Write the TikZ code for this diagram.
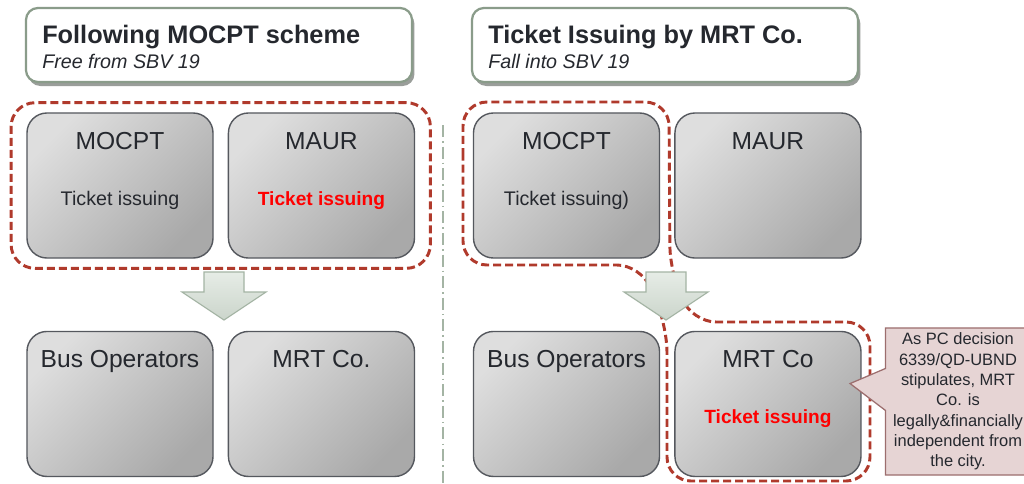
\documentclass[tikz,border=0pt]{standalone}
\usepackage{fontspec}
\setmainfont{Liberation Sans}
\usetikzlibrary{positioning,fit,shadows,shapes.callouts}

\definecolor{inkgray}{HTML}{25282E}
\definecolor{boxline}{HTML}{55585E}
\definecolor{boxlight}{HTML}{DEDEDE}
\definecolor{boxdark}{HTML}{A9A9A9}
\definecolor{grpred}{HTML}{B03A2C}
\definecolor{titleline}{HTML}{8A9C8A}
\definecolor{titleshade}{HTML}{9A9E9A}
\definecolor{arrowtop}{HTML}{E6ECE6}
\definecolor{arrowbot}{HTML}{CBD5CB}
\definecolor{arrowline}{HTML}{A4B4A4}
\definecolor{notefill}{HTML}{E6D4D4}
\definecolor{noteline}{HTML}{9C6E6E}

\begin{document}
\begin{tikzpicture}[x=0.025cm, y=-0.025cm, text=inkgray]

	% Stili per riquadri, gruppi e frecce
	\tikzset{
		titlebox/.style={
			draw=titleline, line width=1.6pt, fill=white,
			rounded corners=0.3cm,
			minimum width=9.65cm, minimum height=1.85cm,
			general shadow={shadow xshift=0.06cm, shadow yshift=-0.1cm,
				fill=titleshade}
		},
		titletext/.style={
			anchor=base west, inner sep=0pt,
			font=\bfseries\fontsize{18}{21}\selectfont
		},
		subtext/.style={
			anchor=base west, inner sep=0pt,
			font=\itshape\fontsize{14}{17}\selectfont
		},
		unit/.style={
			draw=boxline, line width=1pt, rounded corners=0.5cm,
			minimum width=4.65cm, minimum height=3.625cm,
			top color=boxlight, bottom color=boxdark, shading angle=45
		},
		head/.style={
			anchor=base,
			font=\fontsize{17.5}{21}\selectfont
		},
		duty/.style={
			anchor=base,
			font=\fontsize{14}{17}\selectfont
		},
		hotduty/.style={
			anchor=base, text=red,
			font=\bfseries\fontsize{13.6}{17}\selectfont
		},
		group/.style={
			draw=grpred, line width=2.1pt,
			dash pattern=on 0.2cm off 0.1cm,
			rounded corners=0.6cm
		},
		flow/.style={
			draw=arrowline, line width=0.8pt,
			top color=arrowtop, bottom color=arrowbot
		},
		divider/.style={
			draw=arrowline, line width=1pt,
			dash pattern=on 0.3cm off 0.1cm on 0.04cm off 0.1cm
		},
		note/.style={
			rectangle callout, draw=noteline, line width=0.9pt,
			fill=notefill, inner sep=0pt,
			minimum width=3.625cm, minimum height=3.675cm,
			callout pointer width=1.05cm,
			align=center,
			font=\fontsize{11.7}{14.45}\selectfont
		}
	}

	\useasboundingbox (0,0) rectangle (1024,483);
	\fill[white] (0,0) rectangle (1024,483);

	% Intestazioni
	\node[titlebox] (tL) at (219,45) {};
	\node[titletext] (tLa) at (42,43) {Following MOCPT scheme};
	\node[subtext]   (tLb) at (42,68) {Free from SBV 19};

	\node[titlebox] (tR) at (665,45) {};
	\node[titletext] (tRa) at (488,43) {Ticket Issuing by MRT Co.};
	\node[subtext]   (tRb) at (488,68) {Fall into SBV 19};

	% Schema di sinistra
	\node[unit] (mocptL) at (120,185.5) {};
	\node[unit, right=0.35cm of mocptL] (maurL) {};
	\node[unit, below=1.8cm of mocptL] (busL) {};
	\node[unit, below=1.8cm of maurL] (mrtL) {};

	\node[head] at ([yshift=-0.925cm]mocptL.north) {MOCPT};
	\node[duty] at ([yshift=-2.325cm]mocptL.north) {Ticket issuing};
	\node[head] at ([yshift=-0.925cm]maurL.north) {MAUR};
	\node[hotduty] at ([yshift=-2.325cm]maurL.north) {Ticket issuing};
	\node[head] at ([yshift=-0.925cm]busL.north) {Bus Operators};
	\node[head] at ([yshift=-0.925cm]mrtL.north) {MRT Co.};

	\node[group, fit=(mocptL)(maurL), inner xsep=0.38cm, inner ysep=0.24cm] (grpL) {};

	% Schema di destra
	\node[unit] (mocptR) at (566.5,185.5) {};
	\node[unit, right=0.35cm of mocptR] (maurR) {};
	\node[unit, below=1.8cm of mocptR] (busR) {};
	\node[unit, below=1.8cm of maurR] (mrtR) {};

	\node[head] at ([yshift=-0.925cm]mocptR.north) {MOCPT};
	\node[duty] at ([yshift=-2.325cm]mocptR.north) {Ticket issuing)};
	\node[head] at ([yshift=-0.925cm]maurR.north) {MAUR};
	\node[head] at ([yshift=-0.925cm]busR.north) {Bus Operators};
	\node[head] at ([yshift=-0.925cm]mrtR.north) {MRT Co};
	\node[hotduty] at ([yshift=-2.325cm]mrtR.north) {Ticket issuing};

	\draw[group] (463,180) -- (463,102) -- (669,102) -- (670,270) -- (692,322)
		-- (870,322) -- (870,481) -- (667,481) -- (667,328) -- (641,265)
		-- (463,265) -- cycle;

	% Separatore
	\draw[divider] (443,125) -- (443,483);

	% Frecce di passaggio
	\foreach \ax in {224,666}
		\path[flow] (\ax-20,272) -- (\ax+20,272) -- (\ax+20,292) -- (\ax+42,292)
			-- (\ax,320) -- (\ax-42,292) -- (\ax-20,292) -- cycle;

	% Nota
	\node[note, callout absolute pointer={([xshift=-0.29cm, yshift=0.51cm]mrtR.east)}]
		(noteR) at (958,401.5)
		{As PC decision\\6339/QD-UBND\\stipulates, MRT\\Co. is\\legally\&financially\\independent from\\the city.};

\end{tikzpicture}
\end{document}
